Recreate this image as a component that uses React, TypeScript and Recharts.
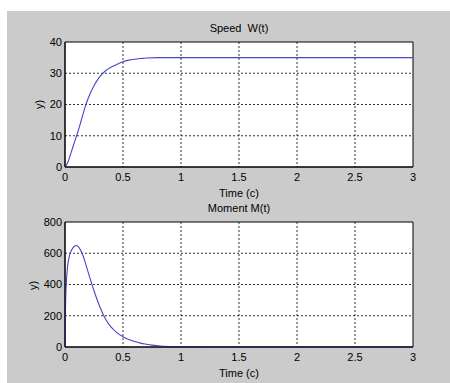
import React from "react";
import {
  LineChart,
  Line,
  XAxis,
  YAxis,
  CartesianGrid,
  ReferenceArea,
} from "recharts";

// time axis ticks shared by both panels
const timeTicks = [0, 0.5, 1, 1.5, 2, 2.5, 3];

// Speed W(t)
const speedT = [0, 0.025, 0.05, 0.075, 0.1, 0.125, 0.15, 0.175, 0.2, 0.25, 0.3, 0.35, 0.4, 0.45, 0.5, 0.55, 0.6, 0.65, 0.7, 0.8, 0.9, 1, 1.5, 2, 2.5, 3];
const speedW = [0, 1.5, 4.3, 7.2, 10, 13, 16.2, 19.4, 22, 26, 28.9, 30.8, 32, 32.9, 33.7, 34.2, 34.5, 34.7, 34.9, 35, 35, 35, 35, 35, 35, 35];
const speedTicks = [0, 10, 20, 30, 40];

// Moment M(t)
const momentT = [0, 0.003, 0.006, 0.01, 0.02, 0.03, 0.05, 0.07, 0.085, 0.1, 0.12, 0.15, 0.175, 0.2, 0.25, 0.3, 0.35, 0.4, 0.45, 0.5, 0.55, 0.6, 0.65, 0.7, 0.75, 0.8, 0.9, 1, 1.5, 2, 2.5, 3];
const momentM = [0, 200, 310, 390, 500, 555, 610, 636, 646, 650, 638, 595, 540, 478, 360, 258, 178, 125, 90, 65, 48, 35, 25, 18, 12, 8, 3, 1, 0, 0, 0, 0];
const momentTicks = [0, 200, 400, 600, 800];

const FONT = "'Liberation Sans', Arial, sans-serif";
const tickStyle = { fontSize: 11, fill: "#000", fontFamily: FONT };
const LINE_COLOR = "#4646c8";

interface PanelProps {
  t: number[];
  v: number[];
  yTicks: number[];
}

function Panel({ t, v, yTicks }: PanelProps) {
  const data = t.map((x, i) => ({ t: x, v: v[i] }));
  const yMax = yTicks[yTicks.length - 1];
  return (
    <LineChart
      width={450}
      height={200}
      data={data}
      margin={{ top: 42, right: 37, bottom: 3, left: 0 }}
    >
      <CartesianGrid
        fill="#fff"
        stroke="#333"
        strokeDasharray="2 2"
        horizontalValues={yTicks.slice(1, -1)}
        verticalValues={timeTicks.slice(1, -1)}
      />
      <XAxis
        dataKey="t"
        type="number"
        domain={[0, 3]}
        ticks={timeTicks}
        height={30}
        tick={tickStyle}
        tickLine={false}
        tickSize={4}
        tickMargin={2}
        axisLine={{ stroke: "#000" }}
      />
      <YAxis
        type="number"
        domain={[0, yMax]}
        ticks={yTicks}
        width={65}
        tick={tickStyle}
        tickLine={false}
        tickSize={1}
        tickMargin={2}
        axisLine={{ stroke: "#000" }}
      />
      <ReferenceArea x1={0} x2={3} y1={0} y2={yMax} fill="none" fillOpacity={0} stroke="#000" strokeOpacity={1} />
      <Line
        dataKey="v"
        type="monotone"
        stroke={LINE_COLOR}
        strokeWidth={1.1}
        dot={false}
        isAnimationActive={false}
      />
    </LineChart>
  );
}

const textBase: React.CSSProperties = {
  position: "absolute",
  fontFamily: FONT,
  fontSize: 11,
  lineHeight: "13px",
  color: "#000",
  textAlign: "center",
  whiteSpace: "pre",
};

function CenterText({ text, cx, cy, rotate }: { text: string; cx: number; cy: number; rotate?: boolean }) {
  return (
    <div
      style={{
        ...textBase,
        left: cx - 60,
        top: cy - 6,
        width: 120,
        height: 13,
        transform: rotate ? "rotate(-90deg)" : undefined,
      }}
    >
      {text}
    </div>
  );
}

export default function App() {
  return (
    <div style={{ position: "absolute", left: 0, top: 0, width: 450, height: 383, background: "#fff", overflow: "hidden" }}>
      <div style={{ position: "absolute", left: 7, top: 11, width: 443, height: 372, background: "#cbcbcb" }} />
      <div style={{ position: "absolute", left: 0, top: 0 }}>
        <Panel t={speedT} v={speedW} yTicks={speedTicks} />
      </div>
      <div style={{ position: "absolute", left: 0, top: 180 }}>
        <Panel t={momentT} v={momentM} yTicks={momentTicks} />
      </div>
      <CenterText text="Speed  W(t)" cx={239} cy={28} />
      <CenterText text="Time (c)" cx={239} cy={193} />
      <CenterText text="y)" cx={39} cy={104} rotate />
      <CenterText text="Moment M(t)" cx={239} cy={208} />
      <CenterText text="Time (c)" cx={239} cy={373} />
      <CenterText text="y)" cx={33} cy={285} rotate />
    </div>
  );
}
